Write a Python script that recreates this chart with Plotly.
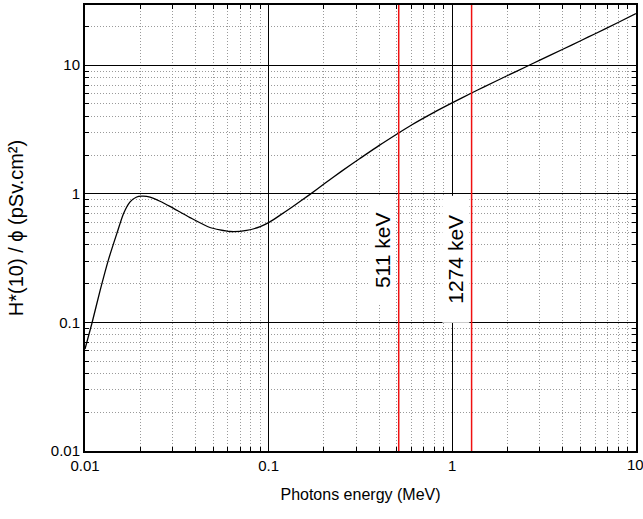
import numpy as np
import plotly.graph_objects as go

# Photon energy (MeV) and H*(10)/phi (pSv.cm2)
energy = [0.0100, 0.0109, 0.0121, 0.0134, 0.0149, 0.0162, 0.0176, 0.0190, 0.0204,
          0.0226, 0.0256, 0.029, 0.0373, 0.0479, 0.0615, 0.0759, 0.090, 0.1016,
          0.115, 0.135, 0.168, 0.20, 0.25, 0.314, 0.40, 0.508, 0.60, 0.80, 1.016,
          1.274, 1.50, 1.975, 2.54, 3.0, 4.0, 5.0, 6.0, 8.0, 10.0]
hstar = [0.062, 0.098, 0.178, 0.305, 0.49, 0.70, 0.865, 0.94, 0.958,
         0.944, 0.875, 0.798, 0.653, 0.547, 0.509, 0.519, 0.556, 0.605,
         0.679, 0.793, 0.99, 1.19, 1.50, 1.88, 2.38, 2.96, 3.43, 4.32, 5.16,
         6.08, 6.81, 8.24, 9.77, 10.95, 13.31, 15.49, 17.57, 21.48, 25.2]

# Marker lines (MeV) and their labels
line_energies = [0.511, 1.274]
line_labels = ["511 keV", "1274 keV"]
label_y = [0.365, 0.31]

x_ticks = [0.01, 0.1, 1, 10]
x_ticktext = ["0.01", "0.1", "1", "10"]
y_ticks = [0.01, 0.1, 1, 10]
y_ticktext = ["0.01", "0.1", "1", "10"]

FONT = "Liberation Sans, Arial, Helvetica, sans-serif"

fig = go.Figure()
fig.add_trace(go.Scatter(x=energy, y=hstar, mode="lines",
                         line=dict(color="black", width=1.3, shape="spline", smoothing=0.6),
                         showlegend=False, hoverinfo="skip"))

for e in line_energies:
    fig.add_trace(go.Scatter(x=[e, e], y=[0.01, 30], mode="lines",
                             line=dict(color="#f01010", width=1.5),
                             showlegend=False, hoverinfo="skip"))

box_len = [106, 126]
shifts = [-16.5, -15.5]
for e, t, yy, bl, sh in zip(line_energies, line_labels, label_y, box_len, shifts):
    fig.add_annotation(x=np.log10(e), y=np.log10(yy), text=t, textangle=-90,
                       showarrow=False, xshift=sh, bgcolor="white",
                       width=bl, height=26,
                       font=dict(family=FONT, size=21, color="black"),
                       borderpad=0)

# last x tick label (clipped at the figure edge like in the original)
fig.add_annotation(x=np.log10(x_ticks[-1]), y=0, yref="paper", text=x_ticktext[-1],
                   showarrow=False, yanchor="top", yshift=-3,
                   font=dict(family=FONT, size=15, color="black"))

axis_common = dict(
    type="log", showline=True, linecolor="black", linewidth=2, mirror="ticks",
    ticks="inside", ticklen=8, tickwidth=1, tickcolor="black",
    showgrid=True, gridcolor="black", gridwidth=1, zeroline=False,
    automargin=False,
    minor=dict(ticks="inside", ticklen=4, tickcolor="black", showgrid=True,
               gridcolor="#9a9a9a", griddash="1px,2px", gridwidth=1, dtick="D1"),
    tickfont=dict(family=FONT, size=15, color="black"),
)

fig.update_xaxes(range=[-2, 1.0005], tickvals=x_ticks, ticktext=x_ticktext,
                 title=dict(text="Photons energy (MeV)", standoff=16,
                            font=dict(family=FONT, size=16, color="black")),
                 **axis_common)
fig.update_yaxes(range=[-2, 1.468], tickvals=y_ticks, ticktext=y_ticktext,
                 title=dict(text="H*(10) / ϕ (pSv.cm²)", standoff=22,
                            font=dict(family=FONT, size=20, color="black")),
                 **axis_common)

fig.update_layout(width=643, height=519,
                  margin=dict(l=85, r=7, t=5, b=68),
                  plot_bgcolor="white", paper_bgcolor="white")

fig.write_html("out.html", config={"displayModeBar": False},
               post_script="document.body.style.margin='0';document.body.style.overflow='hidden';")
